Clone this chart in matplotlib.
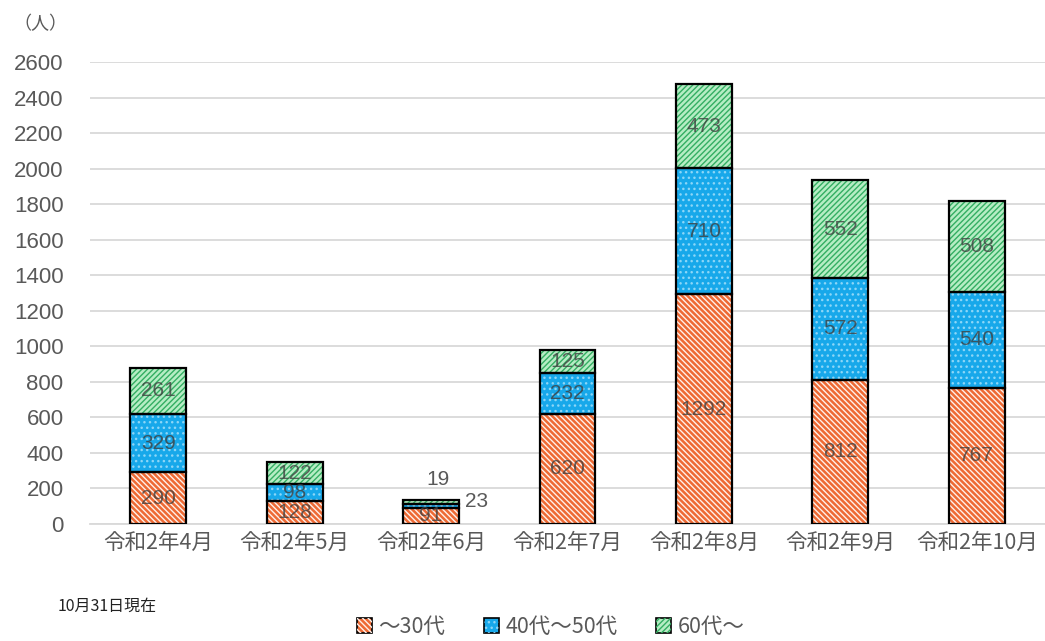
import matplotlib
matplotlib.use("Agg")
import matplotlib.pyplot as plt
from matplotlib.patches import Patch
from matplotlib.legend_handler import HandlerTuple
import numpy as np

plt.rcParams['font.family'] = ['Noto Sans CJK JP', 'DejaVu Sans']

categories = ['令和2年4月', '令和2年5月', '令和2年6月', '令和2年7月', '令和2年8月', '令和2年9月', '令和2年10月']
s_under30 = [290, 128, 91, 620, 1292, 812, 767]
s_40_50 = [329, 98, 23, 232, 710, 572, 540]
s_60plus = [261, 122, 19, 125, 473, 552, 508]
series_names = ['～30代', '40代～50代', '60代～']
yticks = list(range(0, 2601, 200))

styles = [
    dict(base='#EE6A34', hc='#FFF1EA', hatch='\\' * 6),
    dict(base='#17A8EA', hc='#8CD6F7', hatch='...'),
    dict(base='#B6EDC4', hc='#33AE62', hatch='/' * 6),
]

plt.rcParams['hatch.linewidth'] = 1.0

num_font = ['Liberation Sans', 'DejaVu Sans']

fig = plt.figure(figsize=(10.45, 6.41), dpi=100)
ax = fig.add_axes([0.0861, 0.1825, 0.9139, 0.7208])

x = np.arange(len(categories))
w = 0.41
bottom = np.zeros(len(categories))
series = [s_under30, s_40_50, s_60plus]
for vals, st in zip(series, styles):
    vals = np.array(vals, dtype=float)
    ax.bar(x, vals, w, bottom=bottom, color=st['base'], edgecolor='none', zorder=2)
    ax.bar(x, vals, w, bottom=bottom, facecolor='none', edgecolor=st['hc'], hatch=st['hatch'], linewidth=0, zorder=3)
    ax.bar(x, vals, w, bottom=bottom, facecolor='none', edgecolor='black', linewidth=1.6, zorder=4)
    for i, (v, b) in enumerate(zip(vals, bottom)):
        if v >= 60:
            ax.text(i, b + v / 2, f'{int(v)}', ha='center', va='center', fontsize=15,
                    color='#404040', family=num_font, zorder=5, alpha=0.8)
    bottom = bottom + vals

# small June labels outside
ax.text(2.33, 129, f'{s_40_50[2]}', ha='center', va='center', fontsize=15,
        color='#595959', family=num_font, zorder=5)
ax.text(2.05, 250, f'{s_60plus[2]}', ha='center', va='center', fontsize=15,
        color='#595959', family=num_font, zorder=5)

ax.set_xlim(-0.5, len(categories) - 0.5)
ax.set_ylim(0, 2600)
ax.set_yticks(yticks)
ax.set_yticklabels([str(t) for t in yticks], fontsize=16, color='#595959', family=num_font)
ax.set_xticks(x)
ax.set_xticklabels(categories, fontsize=15.5, color='#595959')
ax.tick_params(axis='both', length=0)
ax.tick_params(axis='x', pad=6)
ax.tick_params(axis='y', pad=19)
ax.grid(axis='y', color='#D9D9D9', linewidth=1.3, zorder=0)
ax.set_axisbelow(True)
for s in ['top', 'right', 'left']:
    ax.spines[s].set_visible(False)
ax.spines['bottom'].set_color('#D9D9D9')
ax.spines['bottom'].set_linewidth(1.3)

fig.text(0.039, 0.962, '（人）', fontsize=13, color='#595959', ha='center', va='center')
fig.text(0.055, 0.054, '10月31日現在', fontsize=11.5, color='#222222', ha='left', va='center')

handles = []
for st in styles:
    handles.append((Patch(facecolor=st['base'], edgecolor='black', linewidth=1.2),
                    Patch(facecolor='none', edgecolor=st['hc'], hatch=st['hatch'], linewidth=0)))
leg = fig.legend(handles, series_names, handler_map={tuple: HandlerTuple(ndivide=1, pad=0)},
                 loc='center', bbox_to_anchor=(0.527, 0.022), ncol=3, frameon=False,
                 fontsize=15.5, handlelength=0.7, handleheight=0.7, handletextpad=0.3,
                 columnspacing=1.8)
for t in leg.get_texts():
    t.set_color('#595959')

fig.savefig('out.png', dpi=100)
